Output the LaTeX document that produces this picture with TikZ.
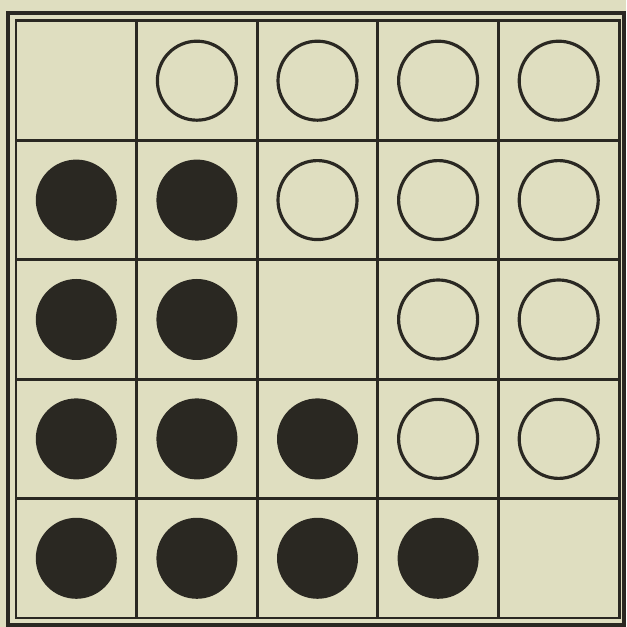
\documentclass[tikz,border=0pt]{standalone}
\usepackage{tikz}
\usetikzlibrary{positioning}
\definecolor{paper}{RGB}{223,222,192}
\definecolor{ink}{RGB}{42,40,34}
\tikzstyle{frame} = [draw=ink, line width=1.4pt]
\tikzstyle{gridline} = [draw=ink, line width=0.85pt]
\tikzstyle{ring} = [circle, draw=ink, line width=0.9pt, minimum size=0.79cm, inner sep=0pt]
\tikzstyle{disc} = [circle, fill=ink, minimum size=0.81cm, inner sep=0pt]
\begin{document}
\begin{tikzpicture}
\fill[paper] (0,0) rectangle (6.26,6.27);
\useasboundingbox (0,0) rectangle (6.26,6.27);
% double border
\draw[frame] (0.08,0.02) rectangle (6.24,6.14);
\draw[gridline] (0.16,0.09) rectangle (6.19,6.06);
% grid
\foreach \i in {1,...,4} {
  \draw[gridline] ({0.16+1.206*\i},0.09) -- ({0.16+1.206*\i},6.06);
  \draw[gridline] (0.16,{0.09+1.194*\i}) -- (6.19,{0.09+1.194*\i});
}
% open circles
\foreach \r/\c in {1/2,1/3,1/4,1/5,2/3,2/4,2/5,3/4,3/5,4/4,4/5}
  \node[ring] (ring-\r-\c) at ({0.16+1.206*(\c-0.5)},{6.06-1.194*(\r-0.5)}) {};
% filled circles
\foreach \r/\c in {2/1,2/2,3/1,3/2,4/1,4/2,4/3,5/1,5/2,5/3,5/4}
  \node[disc] (disc-\r-\c) at ({0.16+1.206*(\c-0.5)},{6.06-1.194*(\r-0.5)}) {};
\end{tikzpicture}
\end{document}
